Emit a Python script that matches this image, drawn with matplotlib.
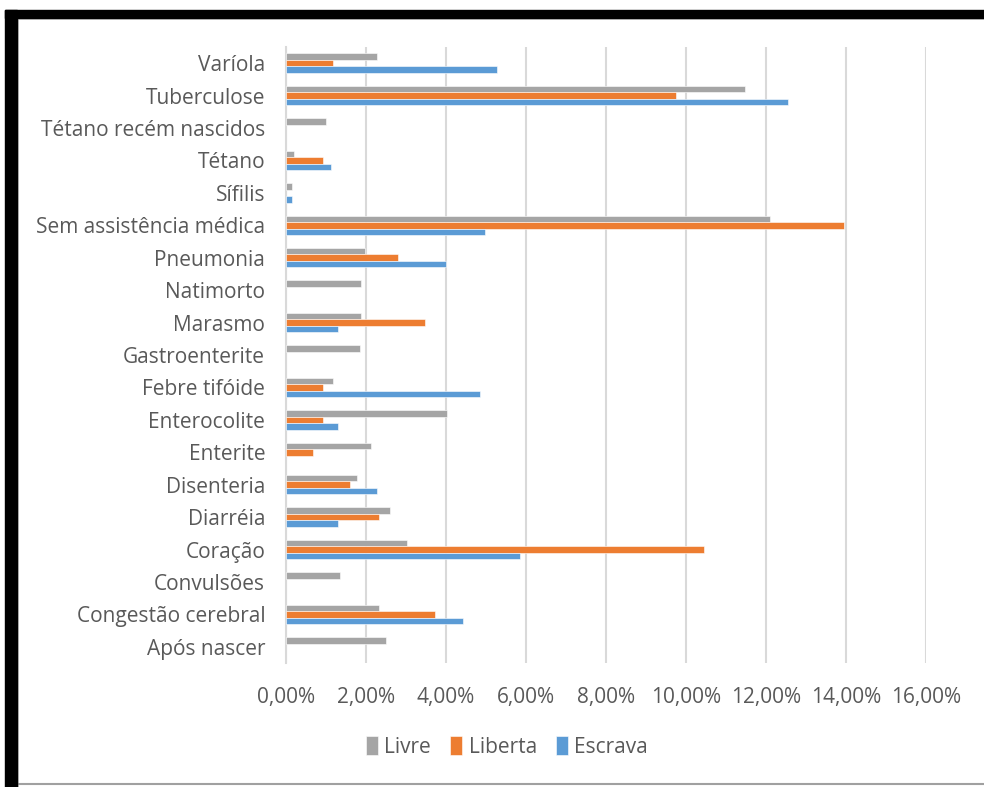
import numpy as np
import matplotlib
matplotlib.use('Agg')
import matplotlib.pyplot as plt
from matplotlib.patches import Rectangle
from matplotlib.lines import Line2D
from matplotlib.ticker import FuncFormatter

plt.rcParams['font.family'] = ['Open Sans', 'DejaVu Sans']

# causas de óbito, de cima para baixo
causas = ['Varíola', 'Tuberculose', 'Tétano recém nascidos', 'Tétano', 'Sífilis',
          'Sem assistência médica', 'Pneumonia', 'Natimorto', 'Marasmo',
          'Gastroenterite', 'Febre tifóide', 'Enterocolite', 'Enterite',
          'Disenteria', 'Diarréia', 'Coração', 'Convulsões',
          'Congestão cerebral', 'Após nascer']

# percentuais por condição
livre = [2.27, 11.48, 1.00, 0.20, 0.14, 12.10, 1.97, 1.87, 1.87, 1.84, 1.17,
         4.02, 2.12, 1.77, 2.61, 3.02, 1.36, 2.32, 2.51]
liberta = [1.17, 9.75, 0, 0.93, 0, 13.96, 2.81, 0, 3.47, 0, 0.93,
           0.93, 0.68, 1.61, 2.32, 10.46, 0, 3.73, 0]
escrava = [5.27, 12.55, 0, 1.13, 0.14, 4.97, 3.99, 0, 1.29, 0, 4.85,
           1.29, 0, 2.28, 1.29, 5.84, 0, 4.43, 0]

series = [('Livre', livre, '#A5A5A5'),
          ('Liberta', liberta, '#ED7D31'),
          ('Escrava', escrava, '#5B9BD5')]

W, H = 984, 787
fig = plt.figure(figsize=(W / 100, H / 100), dpi=100)
fig.patch.set_facecolor('white')

ax = fig.add_axes([286 / W, 1 - 663 / H, (926 - 286) / W, (663 - 47) / H])

y = np.arange(len(causas))
h = 0.2
for k, (nome, vals, cor) in enumerate(series):
    v = np.array(vals, dtype=float) / 100
    v[v == 0] = np.nan
    ax.barh(y + (k - 1) * h, v, height=h, color=cor,
            edgecolor='white', linewidth=0.4, label=nome, zorder=3)

ax.set_ylim(len(causas) - 0.5, -0.5)
ax.set_xlim(0, 0.16)
ax.set_xticks(np.arange(0, 0.161, 0.02))
ax.xaxis.set_major_formatter(FuncFormatter(lambda v, p: f'{v * 100:.2f}%'.replace('.', ',')))
ax.set_yticks(y)
ax.set_yticklabels(causas)

ax.grid(axis='x', color='#D9D9D9', linewidth=1.5, zorder=0)
for s in ['top', 'right', 'bottom']:
    ax.spines[s].set_visible(False)
ax.spines['left'].set_color('#D9D9D9')
ax.spines['left'].set_linewidth(1.5)
ax.tick_params(length=0, labelsize=15, colors='#595959')
ax.tick_params(axis='x', pad=17)
ax.tick_params(axis='y', pad=15)

leg = fig.legend(loc='center', bbox_to_anchor=(507 / W, 1 - 747 / H), ncol=3,
                 frameon=False, fontsize=15, handlelength=0.6, handleheight=1.0,
                 handletextpad=0.3, columnspacing=0.9)
for t in leg.get_texts():
    t.set_color('#595959')

# moldura preta
fig.add_artist(Rectangle((5 / W, 1 - 18 / H), 1, 8 / H, transform=fig.transFigure,
                         color='black', zorder=10))
fig.add_artist(Rectangle((5 / W, 0), 12 / W, 1 - 10 / H, transform=fig.transFigure,
                         color='black', zorder=10))
fig.add_artist(Line2D([17 / W, 1], [1 - 19 / H, 1 - 19 / H], transform=fig.transFigure,
                      color='#C8C8C8', linewidth=1.2))
fig.add_artist(Line2D([18 / W, 18 / W], [0, 1 - 18 / H], transform=fig.transFigure,
                      color='#C8C8C8', linewidth=1.2))
fig.add_artist(Line2D([17 / W, 1], [1 - 784 / H, 1 - 784 / H], transform=fig.transFigure,
                      color='#A0A0A0', linewidth=1.5))

fig.savefig('out.png', dpi=100)
